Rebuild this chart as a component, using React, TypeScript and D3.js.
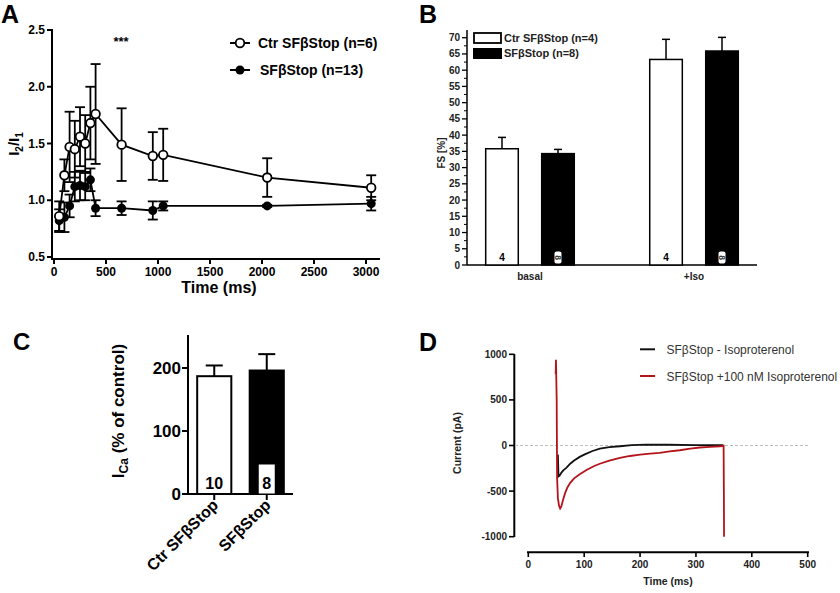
import React from 'react';
import * as d3 from 'd3';

// ---------- Panel A data ----------
const timesA = [50, 100, 150, 200, 250, 300, 350, 400, 650, 950, 1050, 2050, 3050];
const ctrMean = [0.86, 1.22, 1.47, 1.45, 1.56, 1.5, 1.68, 1.76, 1.49, 1.39, 1.4, 1.2, 1.11];
const ctrErr = [0.13, 0.14, 0.31, 0.25, 0.26, 0.25, 0.32, 0.44, 0.32, 0.21, 0.23, 0.17, 0.11];
const sfMean = [0.82, 0.85, 0.95, 1.12, 1.13, 1.12, 1.18, 0.93, 0.93, 0.91, 0.95, 0.95, 0.97];
const sfErr = [0.1, 0.13, 0.1, 0.13, 0.13, 0.12, 0.1, 0.07, 0.06, 0.08, 0.04, 0.01, 0.06];
const ticksAx = [0, 500, 1000, 1500, 2000, 2500, 3000];
const ticksAy = [0.5, 1.0, 1.5, 2.0, 2.5];

// ---------- Panel B data ----------
const groupsB = ['basal', '+Iso'];
const seriesB = ['ctr', 'sf'];
const fsCtr = [35.8, 63.3];
const fsCtrErr = [3.5, 6.2];
const fsSf = [34.3, 65.9];
const fsSfErr = [1.3, 4.2];
const nCtrB = [4, 4];
const nSfB = [8, 8];
const ticksBy = d3.range(0, 75, 5);
const minorBy = d3.range(2.5, 72.5, 5);

// ---------- Panel C data ----------
const catsC = ['Ctr SFβStop', 'SFβStop'];
const icaMean = [187, 196];
const icaErr = [17, 26];
const icaN = [10, 8];
const ticksCy = [0, 100, 200];

// ---------- Panel D data ----------
const blackT = [53, 54, 56, 59, 63, 68, 75, 82, 92, 102, 115, 128, 145, 164, 185, 210, 250, 300, 349];
const blackV = [-100, -340, -330, -300, -270, -245, -200, -165, -125, -95, -60, -35, -18, -8, 5, 10, 8, 5, 3];
const redT = [49, 49.5, 50.8, 51.5, 53, 55, 57, 59, 62, 66, 70, 75, 82, 92, 105, 118, 128, 145, 164, 182, 200, 218, 235, 253, 271, 290, 307, 325, 343, 349.5, 350, 350.3];
const redV = [780, 940, 500, -350, -580, -660, -690, -670, -600, -520, -460, -410, -360, -315, -265, -225, -200, -165, -135, -115, -100, -90, -80, -65, -52, -35, -22, -15, -8, -3, -500, -1000];
const ticksDx = [0, 100, 200, 300, 400, 500];
const ticksDy = [-1000, -500, 0, 500, 1000];

const FONT = 'Liberation Sans, Arial, sans-serif';
const RED = '#b3141c';

function PanelA() {
  const x = d3.scaleLinear().domain([0, 3000]).range([54, 366]);
  const y = d3.scaleLinear().domain([0.5, 2.5]).range([257, 30]);
  const line = d3.line<number>().x((d, i) => x(timesA[i])).y((d) => y(d));
  const cap = 5;
  const errBars = (mean: number[], err: number[], key: string) =>
    mean.map((m, i) => {
      const cx = x(timesA[i]);
      const y1 = y(m + err[i]);
      const y0 = y(m - err[i]);
      return (
        <g key={key + i} stroke="#000" strokeWidth={1.8}>
          <line x1={cx} x2={cx} y1={y0} y2={y1} />
          <line x1={cx - cap} x2={cx + cap} y1={y1} y2={y1} />
          <line x1={cx - cap} x2={cx + cap} y1={y0} y2={y0} />
        </g>
      );
    });
  return (
    <g fontFamily={FONT}>
      <text x={1} y={23} fontSize={25} fontWeight="bold">A</text>
      <line x1={52} x2={52} y1={29} y2={259} stroke="#000" strokeWidth={2} />
      <line x1={51} x2={380} y1={259} y2={259} stroke="#000" strokeWidth={2} />
      {ticksAy.map((t) => (
        <g key={'ay' + t}>
          <line x1={47} x2={52} y1={y(t)} y2={y(t)} stroke="#000" strokeWidth={2} />
          <text x={45} y={y(t) + 4} fontSize={12} fontWeight="bold" textAnchor="end">{t.toFixed(1)}</text>
        </g>
      ))}
      {ticksAx.map((t) => (
        <g key={'ax' + t}>
          <line x1={x(t)} x2={x(t)} y1={259} y2={264} stroke="#000" strokeWidth={2} />
          <text x={x(t)} y={276} fontSize={12} fontWeight="bold" textAnchor="middle">{t}</text>
        </g>
      ))}
      <text x={219} y={293} fontSize={16} fontWeight="bold" textAnchor="middle">Time (ms)</text>
      <text transform="translate(19,144) rotate(-90)" fontSize={15} fontWeight="bold" textAnchor="middle">
        I<tspan fontSize={10} dy={4}>2</tspan><tspan dy={-4}>/I</tspan><tspan fontSize={10} dy={4}>1</tspan>
      </text>
      <text x={121} y={46} fontSize={13} fontWeight="bold" textAnchor="middle">***</text>
      {errBars(ctrMean, ctrErr, 'ce')}
      <path d={line(ctrMean) || ''} fill="none" stroke="#000" strokeWidth={1.8} />
      {errBars(sfMean, sfErr, 'se')}
      <path d={line(sfMean) || ''} fill="none" stroke="#000" strokeWidth={1.8} />
      {sfMean.map((m, i) => (
        <circle key={'sp' + i} cx={x(timesA[i])} cy={y(m)} r={4.5} fill="#000" />
      ))}
      {ctrMean.map((m, i) => (
        <circle key={'cp' + i} cx={x(timesA[i])} cy={y(m)} r={4.3} fill="#fff" stroke="#000" strokeWidth={1.8} />
      ))}
      <line x1={230} x2={250} y1={43} y2={43} stroke="#000" strokeWidth={2} />
      <circle cx={240} cy={43} r={4.3} fill="#fff" stroke="#000" strokeWidth={1.8} />
      <text x={258} y={48} fontSize={14} fontWeight="bold">Ctr SFβStop (n=6)</text>
      <line x1={230} x2={250} y1={70} y2={70} stroke="#000" strokeWidth={2} />
      <circle cx={240} cy={70} r={4.5} fill="#000" />
      <text x={260} y={75} fontSize={14} fontWeight="bold">SFβStop (n=13)</text>
    </g>
  );
}

function PanelB() {
  const y = d3.scaleLinear().domain([0, 70]).range([265, 37.7]);
  const xg = d3.scaleBand<string>().domain(groupsB).range([467, 757]).paddingInner(0.46).paddingOuter(0.114);
  const xs = d3.scaleBand<string>().domain(seriesB).range([0, xg.bandwidth()]).paddingInner(0.418);
  const bw = xs.bandwidth();
  const bars = groupsB.flatMap((g, i) => [
    { g, s: 'ctr', v: fsCtr[i], e: fsCtrErr[i], n: nCtrB[i] },
    { g, s: 'sf', v: fsSf[i], e: fsSfErr[i], n: nSfB[i] },
  ]);
  return (
    <g fontFamily={FONT}>
      <text x={419} y={23} fontSize={25} fontWeight="bold">B</text>
      <line x1={467} x2={467} y1={30} y2={265} stroke="#000" strokeWidth={1.5} />
      <line x1={467} x2={757} y1={265} y2={265} stroke="#000" strokeWidth={1.5} />
      {ticksBy.map((t) => (
        <g key={'by' + t}>
          <line x1={462} x2={467} y1={y(t)} y2={y(t)} stroke="#000" strokeWidth={1.3} />
          <text x={460} y={y(t) + 3.5} fontSize={10} fontWeight="bold" textAnchor="end" fill="#222">{t}</text>
        </g>
      ))}
      {minorBy.map((t) => (
        <line key={'bm' + t} x1={464} x2={467} y1={y(t)} y2={y(t)} stroke="#000" strokeWidth={1} />
      ))}
      {bars.map((b, i) => {
        const bx = (xg(b.g) || 0) + (xs(b.s) || 0);
        const cx = bx + bw / 2;
        const top = y(b.v);
        const et = y(b.v + b.e);
        return (
          <g key={'bb' + i}>
            <line x1={cx} x2={cx} y1={top} y2={et} stroke="#000" strokeWidth={1.5} />
            <line x1={cx - 4} x2={cx + 4} y1={et} y2={et} stroke="#000" strokeWidth={1.5} />
            <rect x={bx} y={top} width={bw} height={265 - top} fill={b.s === 'ctr' ? '#fff' : '#000'} stroke="#000" strokeWidth={1.5} />
            {b.s === 'ctr' ? (
              <text x={cx} y={261} fontSize={10} fontWeight="bold" textAnchor="middle">{b.n}</text>
            ) : (
              <g>
                <rect x={cx - 3.5} y={251.5} width={7} height={12} rx={2} fill="#fff" />
                <text transform={`translate(${cx - 3},${257.5}) rotate(90)`} fontSize={8.5} fontWeight="bold" textAnchor="middle" fill="#333">{b.n}</text>
              </g>
            )}
          </g>
        );
      })}
      {groupsB.map((g) => (
        <text key={'bl' + g} x={(xg(g) || 0) + xg.bandwidth() / 2} y={280} fontSize={10} fontWeight="bold" textAnchor="middle" fill="#222">{g}</text>
      ))}
      <text transform="translate(445,153) rotate(-90)" fontSize={10} fontWeight="bold" textAnchor="middle" fill="#222">FS [%]</text>
      <rect x={474} y={33} width={27} height={10} fill="#fff" stroke="#000" strokeWidth={1.8} />
      <text x={504} y={42} fontSize={11} fontWeight="bold" fill="#222">Ctr SFβStop (n=4)</text>
      <rect x={473} y={48} width={29} height={11} fill="#000" />
      <text x={504} y={57} fontSize={11} fontWeight="bold" fill="#222">SFβStop (n=8)</text>
    </g>
  );
}

function PanelC() {
  const y = d3.scaleLinear().domain([0, 250]).range([494, 336.5]);
  const x = d3.scaleBand<string>().domain(catsC).range([188, 293]).paddingInner(0.35).paddingOuter(0.175);
  const bw = x.bandwidth();
  return (
    <g fontFamily={FONT}>
      <text x={13} y={350} fontSize={24} fontWeight="bold">C</text>
      <line x1={188} x2={188} y1={335} y2={495} stroke="#000" strokeWidth={2} />
      <line x1={187} x2={293} y1={494} y2={494} stroke="#000" strokeWidth={2} />
      {ticksCy.map((t) => (
        <g key={'cy' + t}>
          <line x1={182} x2={188} y1={y(t)} y2={y(t)} stroke="#000" strokeWidth={2} />
          <text x={181} y={y(t) + 6} fontSize={17} fontWeight="bold" textAnchor="end">{t}</text>
        </g>
      ))}
      {catsC.map((c, i) => {
        const bx = x(c) || 0;
        const cx = bx + bw / 2;
        const top = y(icaMean[i]);
        const et = y(icaMean[i] + icaErr[i]);
        return (
          <g key={'cb' + i}>
            <line x1={cx} x2={cx} y1={top} y2={et} stroke="#000" strokeWidth={2} />
            <line x1={cx - 8.5} x2={cx + 8.5} y1={et} y2={et} stroke="#000" strokeWidth={2} />
            <rect x={bx} y={top} width={bw} height={494 - top} fill={i === 0 ? '#fff' : '#000'} stroke="#000" strokeWidth={2} />
            {i === 1 && <rect x={cx - 8} y={464.5} width={16} height={29} fill="#fff" />}
            <text x={cx} y={489} fontSize={16} fontWeight="bold" textAnchor="middle">{icaN[i]}</text>
            <line x1={cx} x2={cx} y1={494} y2={500} stroke="#000" strokeWidth={2} />
            <text transform={`translate(${cx + 5},${506}) rotate(-45)`} fontSize={16} fontWeight="bold" textAnchor="end">{c}</text>
          </g>
        );
      })}
      <text transform="translate(124,411) rotate(-90)" fontSize={17} fontWeight="bold" textAnchor="middle">
        I<tspan fontSize={12} dy={4}>Ca</tspan><tspan dy={-4}> (% of control)</tspan>
      </text>
    </g>
  );
}

function PanelD() {
  const x = d3.scaleLinear().domain([0, 500]).range([528.3, 807.7]);
  const y = d3.scaleLinear().domain([-1000, 1000]).range([536.7, 354.3]);
  const lineB = d3.line<number>().x((d, i) => x(blackT[i])).y((d) => y(d));
  const lineR = d3.line<number>().x((d, i) => x(redT[i])).y((d) => y(d));
  return (
    <g fontFamily={FONT}>
      <text x={419} y={351} fontSize={25} fontWeight="bold">D</text>
      <line x1={514.3} x2={514.3} y1={354} y2={537} stroke="#000" strokeWidth={2} />
      {ticksDy.map((t) => (
        <g key={'dy' + t}>
          <line x1={509} x2={514.3} y1={y(t)} y2={y(t)} stroke="#000" strokeWidth={1.6} />
          <text x={507} y={y(t) + 3.5} fontSize={10} fontWeight="bold" textAnchor="end" fill="#222">{t}</text>
        </g>
      ))}
      <line x1={527} x2={809} y1={552.3} y2={552.3} stroke="#000" strokeWidth={2} />
      {ticksDx.map((t) => (
        <g key={'dx' + t}>
          <line x1={x(t)} x2={x(t)} y1={552.3} y2={557} stroke="#000" strokeWidth={1.6} />
          <text x={x(t)} y={568} fontSize={10} fontWeight="bold" textAnchor="middle" fill="#222">{t}</text>
        </g>
      ))}
      <line x1={515} x2={808} y1={y(0)} y2={y(0)} stroke="#bdbdbd" strokeWidth={1} strokeDasharray="3,2" />
      <text x={668} y={585} fontSize={10.5} fontWeight="bold" textAnchor="middle" fill="#222">Time (ms)</text>
      <text transform="translate(461,443) rotate(-90)" fontSize={10.5} fontWeight="bold" textAnchor="middle" fill="#222">Current (pA)</text>
      <path d={lineB(blackV) || ''} fill="none" stroke="#111" strokeWidth={1.8} />
      <path d={lineR(redV) || ''} fill="none" stroke={RED} strokeWidth={1.8} />
      <line x1={640} x2={655} y1={349.3} y2={349.3} stroke="#111" strokeWidth={2} />
      <text x={666.5} y={353.5} fontSize={12} fill="#333">SFβStop - Isoproterenol</text>
      <line x1={640} x2={655} y1={376} y2={376} stroke={RED} strokeWidth={2} />
      <text x={666.5} y={380.5} fontSize={12} fill="#333">SFβStop +100 nM Isoproterenol</text>
    </g>
  );
}

export default function App() {
  return (
    <svg width={840} height={593} style={{ position: 'absolute', left: 0, top: 0, background: '#fff' }}>
      <rect width={840} height={593} fill="#fff" />
      <PanelA />
      <PanelB />
      <PanelC />
      <PanelD />
    </svg>
  );
}
